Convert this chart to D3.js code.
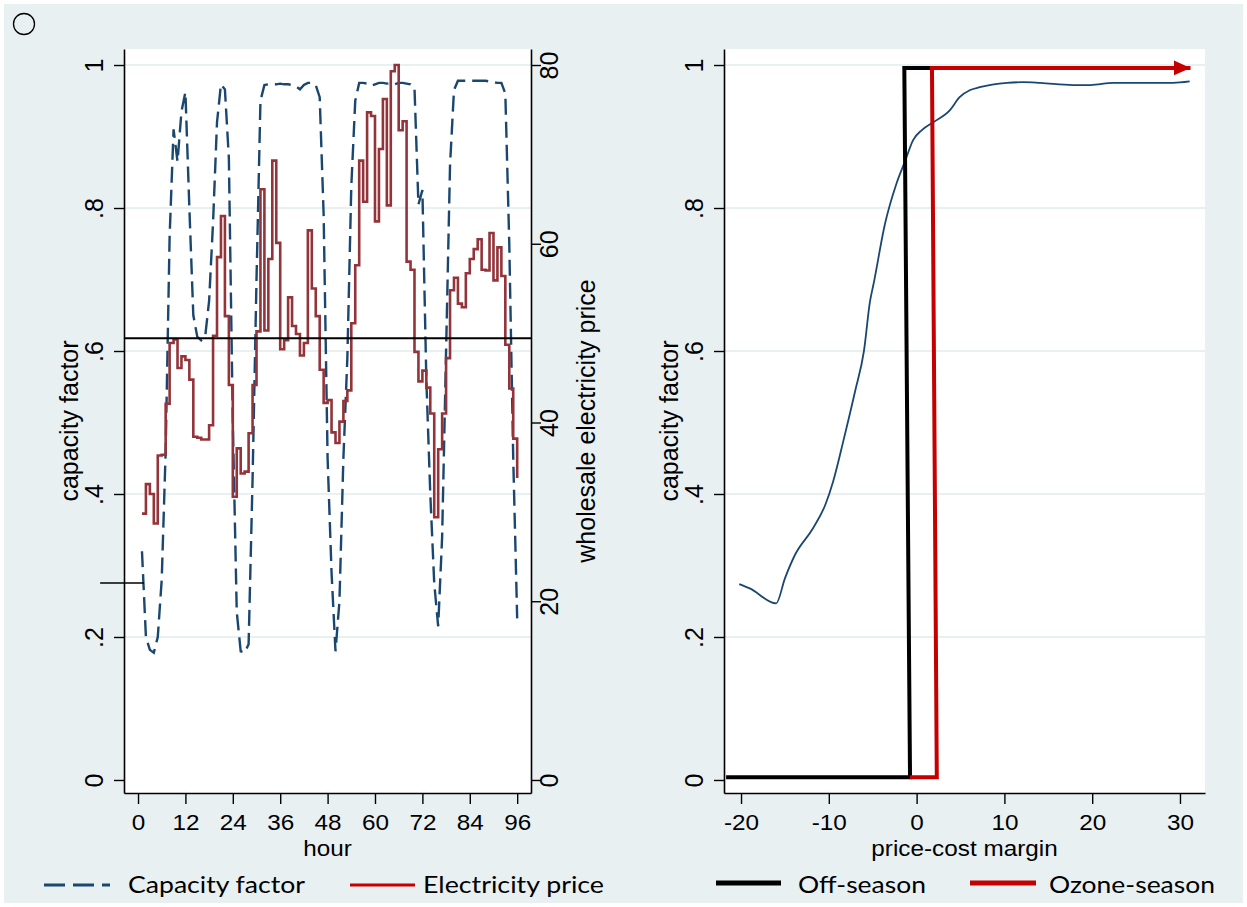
<!DOCTYPE html>
<html><head><meta charset="utf-8">
<script src="https://cdn.jsdelivr.net/npm/d3@7"></script>
<style>body{margin:0;background:#fff}svg{display:block}</style>
</head><body><svg id="c" width="1247" height="907"></svg>
<script>
// ---------- DATA: left panel ----------
const hours = [1,2,3,4,5,6,7,8,9,10,11,12,13,14,15,16,17,18,19,20,21,22,23,24,
  25,26,27,28,29,30,31,32,33,34,35,36,37,38,39,40,41,42,43,44,45,46,47,48,
  49,50,51,52,53,54,55,56,57,58,59,60,61,62,63,64,65,66,67,68,69,70,71,72,
  73,74,75,76,77,78,79,80,81,82,83,84,85,86,87,88,89,90,91,92,93,94,95,96];
const capacityFactor = [0.32,0.20,0.182,0.178,0.20,0.28,0.46,0.76,0.91,0.865,0.935,0.962,
  0.80,0.65,0.62,0.615,0.62,0.67,0.78,0.92,0.973,0.966,0.87,0.50,
  0.235,0.18,0.178,0.19,0.42,0.70,0.95,0.972,0.973,0.973,0.973,0.974,0.973,0.973,0.972,0.970,
  0.966,0.972,0.975,0.975,0.972,0.955,0.79,0.45,
  0.29,0.18,0.25,0.45,0.59,0.83,0.95,0.975,0.975,0.974,0.971,0.973,0.975,0.975,0.974,0.975,
  0.973,0.975,0.975,0.974,0.973,0.968,0.805,0.825,
  0.56,0.40,0.275,0.215,0.34,0.60,0.86,0.965,0.978,0.978,0.978,0.978,0.978,0.978,0.978,0.978,
  0.977,0.976,0.975,0.975,0.96,0.75,0.45,0.226];
const electricityPrice = [29.8,33.1,32.0,28.7,36.3,36.4,42.1,48.9,49.3,46.1,47.4,47.0,
  44.8,38.4,38.3,38.1,38.1,39.7,49.7,58.5,63.1,51.9,44.2,31.7,
  37.1,34.3,34.5,38.8,44.2,50.2,66.1,50.3,58.3,69.3,60.1,48.2,
  49.2,54.0,50.8,49.9,47.5,48.9,61.5,55.0,51.9,45.9,42.2,42.5,
  38.9,37.7,40.1,42.4,43.6,51.1,57.6,69.3,64.7,74.7,74.3,62.5,
  70.6,76.2,64.3,79.3,80.0,72.7,73.7,58.0,57.1,47.9,44.6,45.8,
  43.9,41.0,29.4,37.0,41.0,47.2,54.8,56.2,53.3,52.9,56.7,58.3,
  59.4,60.5,57.1,57.0,61.2,55.9,59.6,56.4,48.7,43.8,38.2,33.8];
const hourTicks = [0,12,24,36,48,60,72,84,96];
const hourTickLabels = ["0","12","24","36","48","60","72","84","96"];
const cfTicks = [0,0.2,0.4,0.6,0.8,1];
const cfTickLabels = ["0",".2",".4",".6",".8","1"];
const priceTicks = [0,20,40,60,80];
const priceTickLabels = ["0","20","40","60","80"];
const refLineCF = 0.618;
const stubHours = [-9.6,1.5];
const stubCF = 0.2755;

// ---------- DATA: right panel ----------
const marginX = [-20.2,-19.0,-16.0,-15.0,-13.85,-11.8,-10.4,-9.5,-8.35,-7.0,-6.0,-5.3,-4.9,-3.6,
  -2.3,-1.3,-0.4,0.6,1.9,3.8,4.9,6.1,7.2,10.3,12.1,14.1,17.8,19.8,22.4,25.4,29.2,31.1];
const marginCF = [0.274,0.268,0.247,0.282,0.315,0.352,0.385,0.418,0.474,0.544,0.600,0.670,0.694,0.778,
  0.834,0.866,0.895,0.909,0.920,0.937,0.955,0.965,0.969,0.975,0.976,0.975,0.972,0.972,0.975,0.975,0.975,0.977];
const offSeasonX = [-21.7,-0.75,-1.4,2.0];
const offSeasonY = [0.004,0.004,0.996,0.996];
const ozoneX = [-0.75,2.3,1.75,31.2];
const ozoneY = [0.004,0.004,0.996,0.996];
const marginTicks = [-20,-10,0,10,20,30];
const marginTickLabels = ["-20","-10","0","10","20","30"];

const legendLeft = ["Capacity factor","Electricity price"];
const legendRight = ["Off-season","Ozone-season"];

// ---------- STYLE ----------
const BG = "#e9f0f2", GRID = "#e2ebee", NAVY = "#1a476f", CRAN = "#93343a", RED = "#c40000";
const FONT = "'Liberation Sans', Arial, sans-serif";
const LFONT = "Lato, 'Noto Sans', sans-serif";

const svg = d3.select("#c");
svg.append("rect").attr("x",4).attr("y",4).attr("width",1239).attr("height",899).attr("fill",BG);
svg.append("circle").attr("cx",24).attr("cy",24).attr("r",10.5).attr("fill","none").attr("stroke","#000").attr("stroke-width",1.3);

const plotTop = 49, plotBot = 793;
function hText(g, x, y, s, size, anchor) {
  return g.append("text").attr("transform",`translate(${x},${y}) scale(1.13,1)`)
    .attr("text-anchor",anchor||"middle").style("font-family",FONT).style("font-size",size+"px").attr("fill","#000").text(s);
}
function vText(g, x, y, s, size) {
  return g.append("text").attr("transform",`translate(${x},${y}) rotate(-90)`)
    .attr("text-anchor","middle").style("font-family",FONT).style("font-size",size+"px").attr("fill","#000").text(s);
}
function styleAxis(a){ a.select(".domain").attr("stroke","#000").attr("stroke-width",1.6);
  a.selectAll(".tick line").attr("stroke","#000").attr("stroke-width",1.4); }

// ================= LEFT PANEL =================
const L = {x0:124, x1:531};
const xL = d3.scaleLinear().domain([-3.55,99.5]).range([L.x0,L.x1]);
const yL = d3.scaleLinear().domain([-0.0182,1.0224]).range([plotBot,plotTop]);
const yP = d3.scaleLinear().domain([-0.0182*80,1.0224*80]).range([plotBot,plotTop]);

const gL = svg.append("g");
gL.append("rect").attr("x",L.x0).attr("y",plotTop).attr("width",L.x1-L.x0).attr("height",plotBot-plotTop).attr("fill","#fff");
gL.selectAll(".grid").data(cfTicks.filter(d=>d>0)).join("line")
  .attr("x1",L.x0).attr("x2",L.x1).attr("y1",d=>yL(d)).attr("y2",d=>yL(d))
  .attr("stroke",GRID).attr("stroke-width",1.6);

gL.append("clipPath").attr("id","clipL").append("rect").attr("x",L.x0).attr("y",plotTop).attr("width",L.x1-L.x0).attr("height",plotBot-plotTop);
const pL = gL.append("g").attr("clip-path","url(#clipL)");
const cfLine = d3.line().x((d,i)=>xL(hours[i])).y(d=>yL(d));
pL.append("path").attr("d",cfLine(capacityFactor)).attr("fill","none").attr("stroke",NAVY)
  .attr("stroke-width",2.4).attr("stroke-dasharray","16,7");
const prLine = d3.line().x((d,i)=>xL(hours[i])).y(d=>yP(d)).curve(d3.curveStepAfter);
pL.append("path").attr("d",prLine(electricityPrice)).attr("fill","none").attr("stroke",CRAN)
  .attr("stroke-width",2.6).attr("stroke-linejoin","miter");
pL.append("line").attr("x1",L.x0).attr("x2",L.x1).attr("y1",yL(refLineCF)).attr("y2",yL(refLineCF))
  .attr("stroke","#000").attr("stroke-width",2);
gL.append("line").attr("x1",xL(stubHours[0])).attr("x2",xL(stubHours[1])).attr("y1",yL(stubCF)).attr("y2",yL(stubCF))
  .attr("stroke","#000").attr("stroke-width",1.6);

// axes
const axYL = gL.append("g").attr("transform",`translate(${L.x0},0)`)
  .call(d3.axisLeft(yL).tickValues(cfTicks).tickFormat((d,i)=>cfTickLabels[i]).tickSize(10).tickSizeOuter(0));
styleAxis(axYL);
axYL.selectAll(".tick text").attr("x",null).attr("dy",null).attr("transform","translate(-21,0) rotate(-90)")
  .attr("text-anchor","middle").style("font-family",FONT).style("font-size","25px").attr("fill","#000");
const axYR = gL.append("g").attr("transform",`translate(${L.x1},0)`)
  .call(d3.axisRight(yP).tickValues(priceTicks).tickFormat((d,i)=>priceTickLabels[i]).tickSize(10).tickSizeOuter(0));
styleAxis(axYR);
axYR.selectAll(".tick text").attr("x",null).attr("dy",null).attr("transform","translate(27,0) rotate(-90)")
  .attr("text-anchor","middle").style("font-family",FONT).style("font-size","25px").attr("fill","#000");
const axXL = gL.append("g").attr("transform",`translate(0,${plotBot})`)
  .call(d3.axisBottom(xL).tickValues(hourTicks).tickFormat((d,i)=>hourTickLabels[i]).tickSize(11).tickSizeOuter(0));
styleAxis(axXL);
axXL.selectAll(".tick text").attr("y",null).attr("dy",null).attr("transform","translate(0,37) scale(1.13,1)")
  .style("font-family",FONT).style("font-size","21.5px").attr("fill","#000");

vText(gL, 78, 421, "capacity factor", 25);
vText(gL, 595, 421, "wholesale electricity price", 25);
hText(gL, (L.x0+L.x1)/2, 856, "hour", 21.5);

// legend left
gL.append("line").attr("x1",44).attr("x2",110).attr("y1",885).attr("y2",885).attr("stroke",NAVY)
  .attr("stroke-width",3).attr("stroke-dasharray","21,8");
gL.append("text").attr("x",128).attr("y",893).attr("textLength",177).attr("lengthAdjust","spacingAndGlyphs")
  .style("font-family",LFONT).style("font-size","24px").text(legendLeft[0]);
gL.append("line").attr("x1",350).attr("x2",415).attr("y1",885).attr("y2",885).attr("stroke",RED).attr("stroke-width",3.2);
gL.append("text").attr("x",423).attr("y",893).attr("textLength",181).attr("lengthAdjust","spacingAndGlyphs")
  .style("font-family",LFONT).style("font-size","24px").text(legendLeft[1]);

// ================= RIGHT PANEL =================
const R = {x0:724, x1:1205};
const xR = d3.scaleLinear().domain([-21.94,32.85]).range([R.x0,R.x1]);
const yR = yL.copy();
const gR = svg.append("g");
gR.append("rect").attr("x",R.x0).attr("y",plotTop).attr("width",R.x1-R.x0).attr("height",plotBot-plotTop).attr("fill","#fff");
gR.selectAll(".grid").data(cfTicks.filter(d=>d>0)).join("line")
  .attr("x1",R.x0).attr("x2",R.x1).attr("y1",d=>yR(d)).attr("y2",d=>yR(d))
  .attr("stroke",GRID).attr("stroke-width",1.6);

const defs = svg.append("defs");
defs.append("marker").attr("id","arrow").attr("markerUnits","userSpaceOnUse")
  .attr("markerWidth",18).attr("markerHeight",16).attr("refX",17).attr("refY",8).attr("orient","auto")
  .append("path").attr("d","M0,0.5 L17,8 L0,15.5 Z").attr("fill",RED);

const cfm = d3.line().x((d,i)=>xR(marginX[i])).y(d=>yR(d)).curve(d3.curveMonotoneX);
gR.append("path").attr("d",cfm(marginCF)).attr("fill","none").attr("stroke",NAVY).attr("stroke-width",1.8);
const seg = (X)=>d3.line().x((d,i)=>xR(X[i])).y(d=>yR(d));
gR.append("path").attr("d",seg(offSeasonX)(offSeasonY)).attr("fill","none").attr("stroke","#000").attr("stroke-width",4);
gR.append("path").attr("d",seg(ozoneX)(ozoneY)).attr("fill","none").attr("stroke",RED).attr("stroke-width",4)
  .attr("marker-end","url(#arrow)");

const axYR2 = gR.append("g").attr("transform",`translate(${R.x0},0)`)
  .call(d3.axisLeft(yR).tickValues(cfTicks).tickFormat((d,i)=>cfTickLabels[i]).tickSize(10).tickSizeOuter(0));
styleAxis(axYR2);
axYR2.selectAll(".tick text").attr("x",null).attr("dy",null).attr("transform","translate(-21,0) rotate(-90)")
  .attr("text-anchor","middle").style("font-family",FONT).style("font-size","25px").attr("fill","#000");
const axXR = gR.append("g").attr("transform",`translate(0,${plotBot})`)
  .call(d3.axisBottom(xR).tickValues(marginTicks).tickFormat((d,i)=>marginTickLabels[i]).tickSize(11).tickSizeOuter(0));
styleAxis(axXR);
axXR.selectAll(".tick text").attr("y",null).attr("dy",null).attr("transform","translate(0,37) scale(1.13,1)")
  .style("font-family",FONT).style("font-size","21.5px").attr("fill","#000");

vText(gR, 678, 421, "capacity factor", 25);
hText(gR, (R.x0+R.x1)/2, 856, "price-cost margin", 21.5);

// legend right
gR.append("line").attr("x1",716).attr("x2",781).attr("y1",883).attr("y2",883).attr("stroke","#000").attr("stroke-width",5);
gR.append("text").attr("x",798).attr("y",893).attr("textLength",128).attr("lengthAdjust","spacingAndGlyphs")
  .style("font-family",LFONT).style("font-size","24px").text(legendRight[0]);
gR.append("line").attr("x1",970).attr("x2",1036).attr("y1",883).attr("y2",883).attr("stroke",RED).attr("stroke-width",5);
gR.append("text").attr("x",1049).attr("y",893).attr("textLength",166).attr("lengthAdjust","spacingAndGlyphs")
  .style("font-family",LFONT).style("font-size","24px").text(legendRight[1]);
</script></body></html>
